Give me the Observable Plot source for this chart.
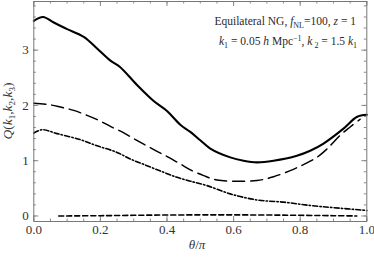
<!DOCTYPE html>
<html><head><meta charset="utf-8">
<script src="https://cdn.jsdelivr.net/npm/d3@7"></script>
<script src="https://cdn.jsdelivr.net/npm/@observablehq/plot@0.6"></script>
<style>body{margin:0;background:#fff}</style>
</head><body><div id="chart"></div>
<script>
// --- data ---
const solidTheta = [0, 0.028, 0.06, 0.10, 0.15, 0.19, 0.23, 0.258, 0.31, 0.36, 0.40, 0.44, 0.47, 0.50, 0.53, 0.59, 0.63, 0.67, 0.72, 0.79, 0.83, 0.87, 0.93, 0.97, 1.0];
const solidQ     = [3.53, 3.60, 3.50, 3.38, 3.24, 3.03, 2.81, 2.70, 2.37, 2.08, 1.90, 1.65, 1.52, 1.37, 1.22, 1.06, 1.00, 0.97, 1.00, 1.09, 1.18, 1.31, 1.58, 1.79, 1.83];
const longTheta  = [0, 0.04, 0.08, 0.12, 0.16, 0.195, 0.23, 0.265, 0.30, 0.33, 0.37, 0.405, 0.44, 0.475, 0.51, 0.55, 0.60, 0.67, 0.72, 0.77, 0.81, 0.85, 0.88, 0.92, 0.95, 0.98];
const longQ      = [2.04, 2.02, 1.97, 1.91, 1.82, 1.73, 1.62, 1.52, 1.40, 1.30, 1.17, 1.06, 0.94, 0.82, 0.73, 0.65, 0.63, 0.64, 0.71, 0.82, 0.93, 1.06, 1.21, 1.46, 1.61, 1.75];
const dotTheta   = [0, 0.025, 0.07, 0.14, 0.19, 0.25, 0.29, 0.34, 0.39, 0.43, 0.47, 0.52, 0.59, 0.67, 0.75, 0.83, 0.90, 1.0];
const dotQ       = [1.50, 1.56, 1.49, 1.38, 1.27, 1.15, 1.03, 0.91, 0.79, 0.70, 0.63, 0.55, 0.40, 0.29, 0.25, 0.19, 0.15, 0.10];
const shortTheta = [0.075, 0.2, 0.35, 0.5, 0.6, 0.75, 0.9, 0.97];
const shortQ     = [0.0, 0.005, 0.015, 0.02, 0.02, 0.015, 0.005, 0.0];
const xMajor = [0, 0.2, 0.4, 0.6, 0.8, 1.0];
const xMinor = d3.range(0, 1.0001, 0.05);
const yMajor = [0, 1, 2, 3];
const yMinor = d3.range(0, 3.81, 0.2);

const W = 374, H = 260;
const mL = 33.3, mR = 7.7, mT = 1, mB = 39;
const fw = W - mL - mR, fh = H - mT - mB;
const tickCol = "#8a8a8a";
const zip = (a, b) => a.map((x, i) => ({x, y: b[i]}));
const serif = "'Liberation Serif', 'DejaVu Serif', serif";

const svg = Plot.plot({
  width: W, height: H,
  marginLeft: mL, marginRight: mR, marginTop: mT, marginBottom: mB,
  style: {fontFamily: serif, fontSize: "13px", color: "#333", background: "#fff"},
  x: {domain: [0, 1]},
  y: {domain: [-0.1, 3.88]},
  marks: [
    // inward ticks on all four sides
    Plot.tickX(xMinor, {x: d => d, insetTop: fh - 2.5, stroke: tickCol}),
    Plot.tickX(xMinor, {x: d => d, insetBottom: fh - 2.5, stroke: tickCol}),
    Plot.tickX(xMajor, {x: d => d, insetTop: fh - 5, stroke: tickCol}),
    Plot.tickX(xMajor, {x: d => d, insetBottom: fh - 5, stroke: tickCol}),
    Plot.tickY(yMinor, {y: d => d, insetRight: fw - 2.5, stroke: tickCol}),
    Plot.tickY(yMinor, {y: d => d, insetLeft: fw - 2.5, stroke: tickCol}),
    Plot.tickY(yMajor, {y: d => d, insetRight: fw - 5, stroke: tickCol}),
    Plot.tickY(yMajor, {y: d => d, insetLeft: fw - 5, stroke: tickCol}),
    Plot.axisX({ticks: xMajor, tickSize: 0, tickPadding: 3, tickFormat: d3.format(".1f"), label: null, fontSize: 13}),
    Plot.axisY({ticks: yMajor, tickSize: 0, tickPadding: 5, tickFormat: d3.format("d"), label: null, fontSize: 13}),
    Plot.line(zip(shortTheta, shortQ), {x: "x", y: "y", stroke: "black", strokeWidth: 1.6, strokeDasharray: "5,3", curve: "catmull-rom"}),
    Plot.line(zip(dotTheta, dotQ), {x: "x", y: "y", stroke: "black", strokeWidth: 1.6, strokeDasharray: "5,2.2,1.4,2.2", curve: "catmull-rom"}),
    Plot.line(zip(longTheta, longQ), {x: "x", y: "y", stroke: "black", strokeWidth: 1.5, strokeDasharray: "12,6", curve: "catmull-rom"}),
    Plot.line(zip(solidTheta, solidQ), {x: "x", y: "y", stroke: "black", strokeWidth: 2.1, curve: "catmull-rom"}),
    Plot.frame({stroke: "#777", strokeWidth: 1})
  ]
});
document.getElementById("chart").appendChild(svg);

const s = d3.select(svg);
// annotation line 1
const t1 = s.append("text").attr("x", 356).attr("y", 25).attr("text-anchor", "end")
  .attr("font-family", serif).attr("font-size", 11.5).attr("fill", "#2a2a2a");
t1.append("tspan").text("Equilateral NG, ");
t1.append("tspan").attr("font-style", "italic").text("f");
t1.append("tspan").attr("font-size", 8).attr("dy", 2.5).text("NL");
t1.append("tspan").attr("dy", -2.5).text("=100, ");
t1.append("tspan").attr("font-style", "italic").text("z");
t1.append("tspan").text(" = 1");
// annotation line 2
const t2 = s.append("text").attr("x", 357).attr("y", 45).attr("text-anchor", "end")
  .attr("font-family", serif).attr("font-size", 11.5).attr("fill", "#2a2a2a");
t2.append("tspan").attr("font-style", "italic").text("k");
t2.append("tspan").attr("font-size", 8).attr("dy", 2.5).text("1");
t2.append("tspan").attr("dy", -2.5).text(" = 0.05 ");
t2.append("tspan").attr("font-style", "italic").text("h");
t2.append("tspan").text(" Mpc");
t2.append("tspan").attr("font-size", 8).attr("dy", -4).text("\u22121");
t2.append("tspan").attr("dy", 4).text(", ");
t2.append("tspan").attr("font-style", "italic").text("k");
t2.append("tspan").attr("font-size", 8).attr("dy", 2.5).text(" 2");
t2.append("tspan").attr("dy", -2.5).text(" = 1.5 ");
t2.append("tspan").attr("font-style", "italic").text("k");
t2.append("tspan").attr("font-size", 8).attr("dy", 2.5).text("1");
// y label
const yl = s.append("text").attr("transform", "translate(12,111) rotate(-90)").attr("text-anchor", "middle")
  .attr("font-family", serif).attr("font-size", 13.5).attr("fill", "#333");
yl.append("tspan").attr("font-style", "italic").text("Q");
yl.append("tspan").text("(");
yl.append("tspan").attr("font-style", "italic").text("k");
yl.append("tspan").attr("font-size", 9).attr("dy", 2.5).text("1");
yl.append("tspan").attr("dy", -2.5).text(",");
yl.append("tspan").attr("font-style", "italic").text("k");
yl.append("tspan").attr("font-size", 9).attr("dy", 2.5).text("2");
yl.append("tspan").attr("dy", -2.5).text(",");
yl.append("tspan").attr("font-style", "italic").text("k");
yl.append("tspan").attr("font-size", 9).attr("dy", 2.5).text("3");
yl.append("tspan").attr("dy", -2.5).text(")");
// x label
const xl = s.append("text").attr("x", 197).attr("y", 249).attr("text-anchor", "middle")
  .attr("font-family", serif).attr("font-size", 13).attr("fill", "#333");
xl.append("tspan").attr("font-style", "italic").text("\u03b8");
xl.append("tspan").text("/");
xl.append("tspan").attr("font-style", "italic").text("\u03c0");
</script>
</body></html>
